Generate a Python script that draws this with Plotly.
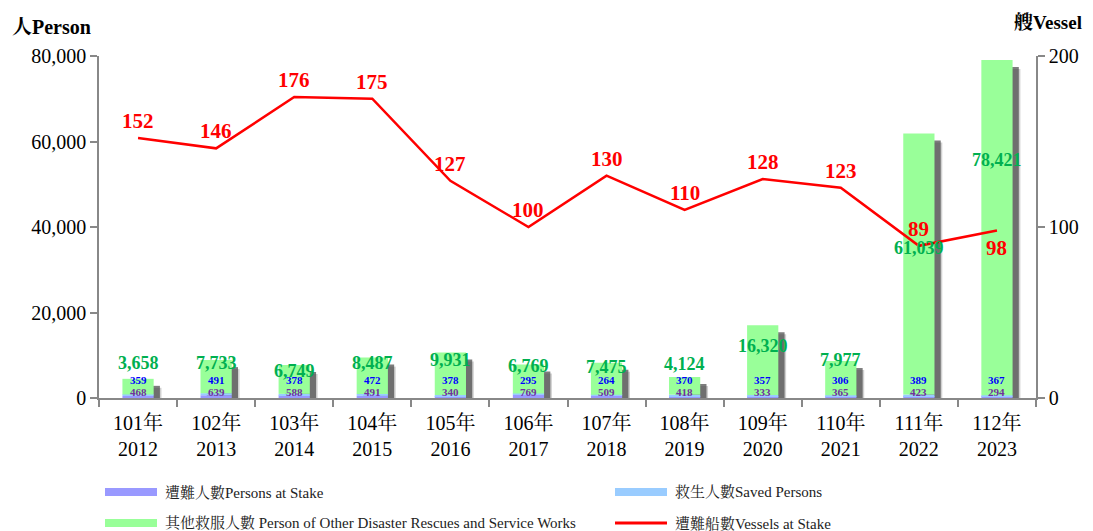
import plotly.graph_objects as go

# ---- data ----
roc_years = ["101年", "102年", "103年", "104年", "105年", "106年", "107年", "108年", "109年", "110年", "111年", "112年"]
ad_years = ["2012", "2013", "2014", "2015", "2016", "2017", "2018", "2019", "2020", "2021", "2022", "2023"]
persons_at_stake = [468, 639, 588, 491, 340, 769, 509, 418, 333, 365, 423, 294]
saved_persons = [359, 491, 378, 472, 378, 295, 264, 370, 357, 306, 389, 367]
other_persons = [3658, 7733, 6749, 8487, 9931, 6769, 7475, 4124, 16320, 7977, 61039, 78421]
vessels = [152, 146, 176, 175, 127, 100, 130, 110, 128, 123, 89, 98]

# label placement (layout only, in left-axis units)
green_label_pos = [8100, 8200, 6400, 8250, 8900, 7450, 7200, 7950, 12150, 8900, 35100, 55700]

cats = [f"{a}<br>{b}" for a, b in zip(roc_years, ad_years)]
n = len(cats)
base_blue = persons_at_stake
base_green = [p + s for p, s in zip(persons_at_stake, saved_persons)]
totals = [b + o for b, o in zip(base_green, other_persons)]

FONT = "Times New Roman, Liberation Serif, Noto Serif CJK TC, Noto Sans CJK TC, serif"
OFF = 8  # page body margin
W, H = 1093 - OFF, 531 - OFF
L, T = 99 - OFF, 56 - OFF
R = W - (1036 - OFF)
B = H - (398 - OFF)
pw, ph = W - L - R, H - T - B
YMAX = 80000
px2val = YMAX / ph

BW = 0.40
fig = go.Figure()

# soft drop shadows
for off, dy, col in [(0.10, 9, "rgba(120,120,120,0.35)"), (0.08, 7, "rgba(70,70,70,0.7)")]:
    fig.add_trace(go.Bar(
        x=cats, y=[max(t - dy * px2val, 0) for t in totals], base=0,
        width=BW, offset=-BW / 2 + off, marker=dict(color=col, line=dict(width=0)),
        hoverinfo="skip", showlegend=False))

fig.add_trace(go.Bar(x=cats, y=persons_at_stake, base=0, width=BW, offset=-BW / 2,
                     marker=dict(color="#9999FF", line=dict(width=0)), name="遭難人數Persons at Stake",
                     showlegend=False))
fig.add_trace(go.Bar(x=cats, y=saved_persons, base=base_blue, width=BW, offset=-BW / 2,
                     marker=dict(color="#99CCFF", line=dict(width=0)), name="救生人數Saved Persons",
                     showlegend=False))
fig.add_trace(go.Bar(x=cats, y=other_persons, base=base_green, width=BW, offset=-BW / 2,
                     marker=dict(color="#99FF99", line=dict(width=0)),
                     name="其他救服人數 Person of Other Disaster Rescues and Service Works",
                     showlegend=False))

fig.add_trace(go.Scatter(
    x=cats, y=vessels, yaxis="y2", mode="lines",
    line=dict(color="#FF0000", width=2.5),
    name="遭難船數Vessels at Stake", showlegend=False))

ann = []
for i in range(n):
    ann.append(dict(x=cats[i], y=vessels[i], xref="x", yref="y2",
                    yshift=(-18 if i == n - 1 else 17), text=str(vessels[i]), showarrow=False,
                    font=dict(family=FONT, size=21, color="#FF0000", weight="bold")))
    ann.append(dict(x=cats[i], y=green_label_pos[i], xref="x", yref="y",
                    text=f"{other_persons[i]:,}", showarrow=False,
                    font=dict(family=FONT, size=18, color="#00B050", weight="bold")))
    ann.append(dict(x=cats[i], y=0, xref="x", yref="y", yshift=18,
                    text=f"{saved_persons[i]:,}", showarrow=False,
                    font=dict(family=FONT, size=11, color="#0000FF", weight="bold")))
    ann.append(dict(x=cats[i], y=0, xref="x", yref="y", yshift=6,
                    text=f"{persons_at_stake[i]:,}", showarrow=False,
                    font=dict(family=FONT, size=11, color="#7030A0", weight="bold")))


def px(xp):
    return (xp - OFF - L) / pw


def py(yp):
    return (H - B - (yp - OFF)) / ph


# axis titles
ann.append(dict(x=px(10), y=py(27), xref="paper", yref="paper", text="人Person",
                showarrow=False, xanchor="left", yanchor="middle",
                font=dict(family=FONT, size=20, color="black", weight="bold")))
ann.append(dict(x=px(1084), y=py(23), xref="paper", yref="paper", text="艘Vessel",
                showarrow=False, xanchor="right", yanchor="middle",
                font=dict(family=FONT, size=19, color="black", weight="bold")))

# manual legend
shapes = []
legend_items = [
    ("遭難人數Persons at Stake", "#9999FF", 105, 492, "rect"),
    ("救生人數Saved Persons", "#99CCFF", 615, 492, "rect"),
    ("其他救服人數 Person of Other Disaster Rescues and Service Works", "#99FF99", 105, 523, "rect"),
    ("遭難船數Vessels at Stake", "#FF0000", 615, 523, "line"),
]
for label, col, x0, yc, kind in legend_items:
    if kind == "rect":
        shapes.append(dict(type="rect", xref="paper", yref="paper", x0=px(x0), x1=px(x0 + 52),
                           y0=py(yc + 4), y1=py(yc - 4), fillcolor=col, line=dict(width=0)))
    else:
        shapes.append(dict(type="line", xref="paper", yref="paper", x0=px(x0), x1=px(x0 + 52),
                           y0=py(yc), y1=py(yc), line=dict(color=col, width=3)))
    ann.append(dict(x=px(x0 + 58), y=py(yc), xref="paper", yref="paper", text=label,
                    showarrow=False, xanchor="left", yanchor="middle",
                    font=dict(family=FONT, size=15, color="#222222")))

axis_common = dict(showline=True, linecolor="#888888", linewidth=1.5, ticks="outside", ticklen=7,
                   tickcolor="#888888", tickwidth=1.5, showgrid=False,
                   tickfont=dict(family=FONT, size=20, color="black"))

fig.update_layout(
    width=W, height=H, margin=dict(l=L, r=R, t=T, b=B),
    paper_bgcolor="white", plot_bgcolor="white",
    barmode="overlay", showlegend=False,
    font=dict(family=FONT, size=20, color="black"),
    xaxis=dict(type="category", range=[-0.5, n - 0.5], tickson="boundaries",
               ticklabelstandoff=6, **axis_common),
    yaxis=dict(range=[0, YMAX], tickvals=[0, 20000, 40000, 60000, 80000], tickformat=",",
               zeroline=False, **axis_common),
    yaxis2=dict(range=[0, 200], tickvals=[0, 100, 200], overlaying="y", side="right",
                zeroline=False, **axis_common),
    annotations=ann, shapes=shapes,
)

fig.write_html("out.html")
